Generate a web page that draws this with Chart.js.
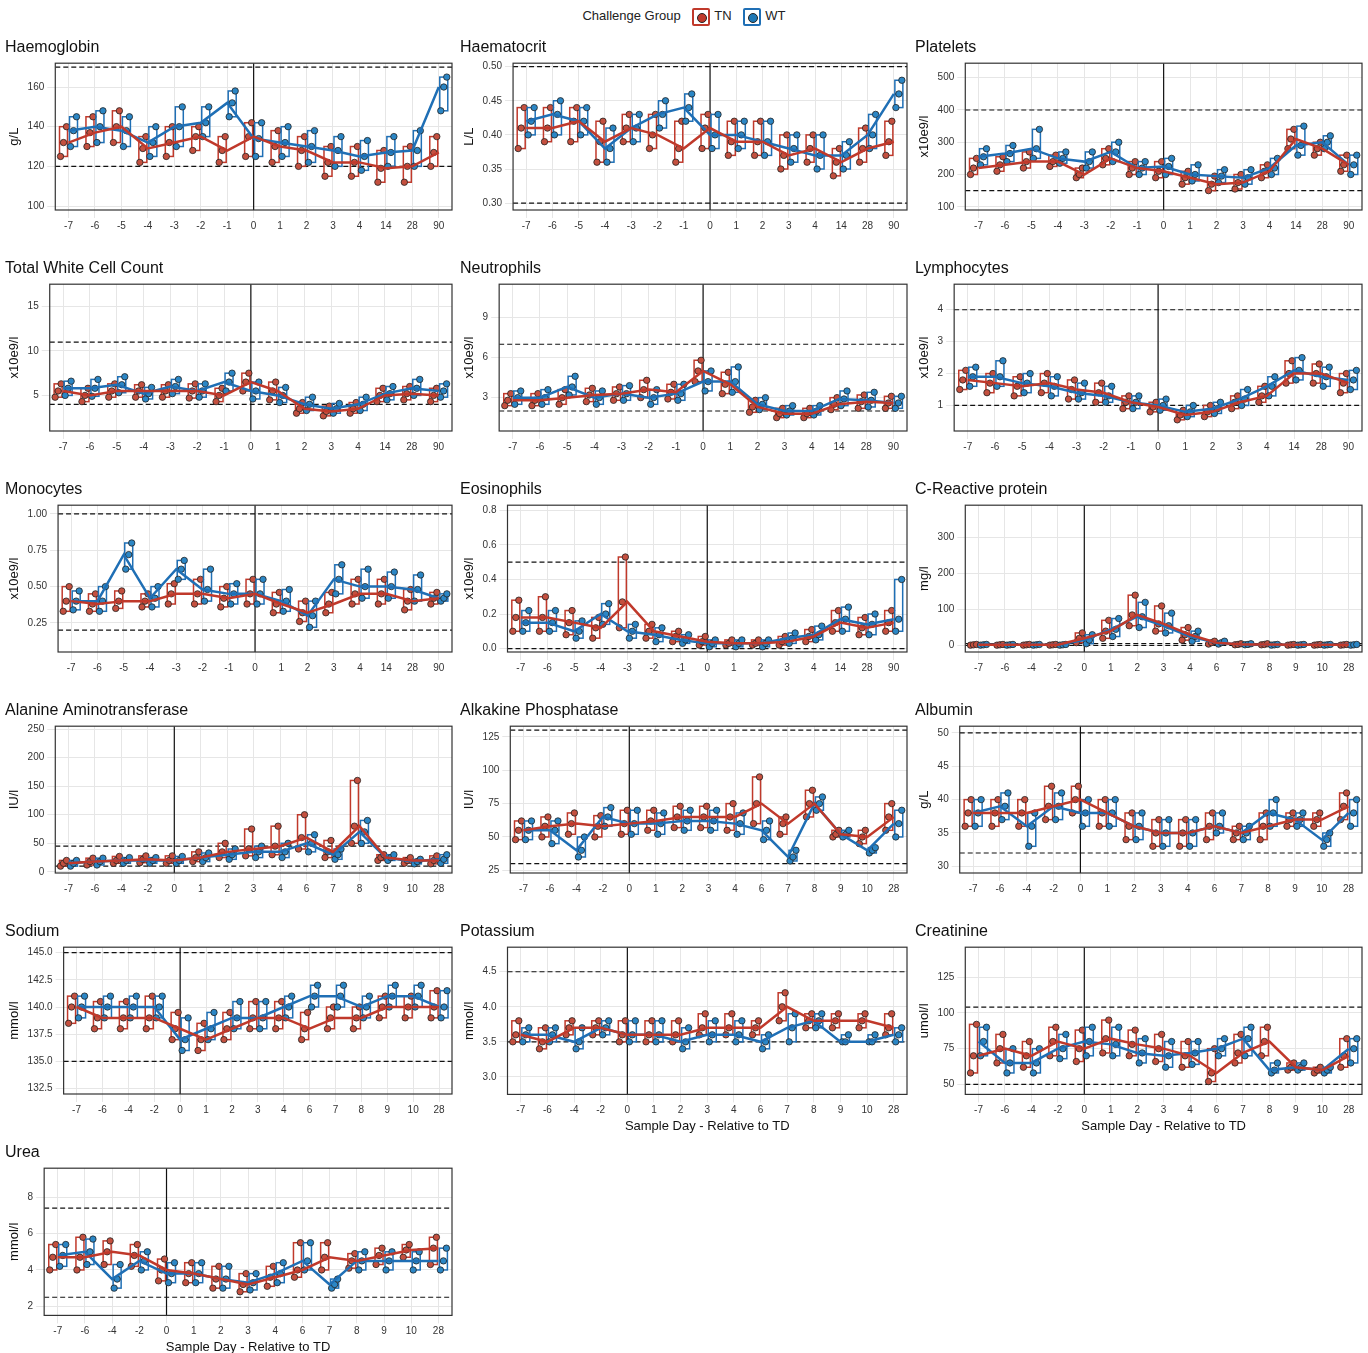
<!DOCTYPE html>
<html>
<head>
<meta charset="utf-8">
<script src="https://cdn.jsdelivr.net/npm/chart.js@4/dist/chart.umd.min.js"></script>
<style>
  body { margin: 0; background: #fff; font-family: "Liberation Sans", Arial, sans-serif; }
  #wrap { position: relative; width: 1368px; height: 1353px; }
  .panel { position: absolute; width: 455px; height: 200px; }
  #legend { position: absolute; top: 8px; left: 0; width: 1368px; text-align: center; font-size: 13px; color: #222; }
  .key { display: inline-block; width: 14px; height: 14px; border: 2px solid; border-radius: 2px; vertical-align: middle; margin: 0 4px 0 8px; position: relative; }
  .key i { position: absolute; left: 3px; top: 3px; width: 8px; height: 8px; border-radius: 50%; border: 1px solid #222; }
</style>
</head>
<body>
<div id="wrap">
  <div id="legend">Challenge Group
    <span class="key" style="border-color:#c0392b"><i style="background:#c0392b"></i></span>TN
    <span class="key" style="border-color:#1f6fb5"><i style="background:#1f78b4"></i></span>WT
  </div>
</div>
<script>
// =============================
// Day categories
// =============================
const DAYS_A = ["-7","-6","-5","-4","-3","-2","-1","0","1","2","3","4","14","28","90"];
const DAYS_B = ["-7","-6","-4","-2","0","1","2","3","4","6","7","8","9","10","28"];

// Haemoglobin
const HB_TN = [132,137,140,129,132,135,128,135,130,128,122,122,119,120,127];
const HB_WT = [138,140,138,132,140,142,152,134,132,130,128,125,127,128,160];
const HB_TN_Q1 = [125,130,132,122,125,128,122,125,122,120,115,115,112,112,120];
const HB_TN_Q3 = [140,145,148,135,140,140,135,142,138,135,130,130,128,130,135];
const HB_WT_Q1 = [130,132,130,125,130,135,145,125,125,122,120,118,120,120,148];
const HB_WT_Q3 = [145,148,145,140,150,150,158,142,140,138,135,133,135,138,165];
const HB_TICKS = [100,120,140,160];

// Haematocrit
const HCT_TN = [.41,.41,.42,.39,.41,.40,.38,.41,.39,.39,.37,.38,.36,.38,.39];
const HCT_WT = [.42,.43,.42,.38,.41,.43,.44,.40,.40,.39,.38,.37,.37,.40,.46];
const HCT_TN_Q1 = [.38,.39,.39,.36,.39,.38,.36,.38,.37,.37,.35,.36,.34,.36,.37];
const HCT_TN_Q3 = [.44,.44,.44,.42,.43,.43,.42,.43,.42,.42,.40,.40,.38,.41,.42];
const HCT_WT_Q1 = [.40,.40,.40,.36,.39,.41,.42,.38,.38,.37,.36,.35,.35,.38,.44];
const HCT_WT_Q3 = [.44,.45,.44,.41,.43,.45,.46,.43,.42,.42,.40,.40,.39,.43,.48];
const HCT_TICKS = [.30,.35,.40,.45,.50];

// Platelets
const PLT_TN = [220,230,240,240,200,250,220,210,190,170,175,210,310,280,230];
const PLT_WT = [255,265,280,250,240,270,220,225,200,195,190,220,290,300,230];
const PLT_TN_Q1 = [200,210,220,225,190,230,200,190,170,150,155,190,280,260,210];
const PLT_TN_Q3 = [250,255,270,260,220,280,240,240,210,195,200,230,340,300,260];
const PLT_WT_Q1 = [230,240,250,235,220,240,200,200,180,175,170,200,260,280,200];
const PLT_WT_Q3 = [280,290,340,270,270,300,240,250,230,215,215,250,350,320,260];
const PLT_TICKS = [100,200,300,400,500];

// Total white cell count
const WCC_TN = [5.5,5,5.5,5.5,5.5,5.5,5,6.5,5.5,3.5,3.2,3.5,5,5.2,5];
const WCC_WT = [5.8,5.8,6.2,5.2,6,5.5,6.5,5.5,5,4,3.5,4,5.2,5.8,5.5];
const WCC_TN_Q1 = [4.8,4.3,4.8,4.8,4.8,4.7,4.3,5.5,4.5,3,2.7,3,4.3,4.5,4.3];
const WCC_TN_Q3 = [6.3,5.8,6.3,6.2,6.2,6.3,5.8,7.5,6.5,4.2,3.8,4.2,5.8,6,5.8];
const WCC_WT_Q1 = [5,4.9,5.3,4.6,5.2,4.8,5.5,4.6,4.2,3.3,3,3.3,4.5,5,4.8];
const WCC_WT_Q3 = [6.6,6.8,7.1,5.9,6.8,6.3,7.5,6.5,5.9,4.8,4.1,4.8,6,6.8,6.3];
const WCC_TICKS = [5,10,15];

// Neutrophils
const NEU_TN = [2.8,2.8,3.0,3.2,3.3,3.6,3.4,5.0,4.0,2.3,1.8,1.8,2.5,2.7,2.6];
const NEU_WT = [3.0,3.0,3.8,3.0,3.3,3.0,3.3,4.2,4.2,2.5,2.0,2.0,2.9,2.8,2.6];
const NEU_TN_Q1 = [2.4,2.4,2.5,2.7,2.8,3.0,2.9,4.2,3.3,1.9,1.5,1.5,2.1,2.2,2.2];
const NEU_TN_Q3 = [3.3,3.3,3.6,3.7,3.8,4.3,4.0,5.8,4.9,2.8,2.2,2.2,3.0,3.2,3.1];
const NEU_WT_Q1 = [2.5,2.5,3.2,2.5,2.8,2.5,2.8,3.5,3.4,2.1,1.7,1.7,2.4,2.3,2.2];
const NEU_WT_Q3 = [3.5,3.6,4.6,3.5,3.9,3.6,4.0,5.0,5.3,3.0,2.4,2.4,3.5,3.4,3.1];
const NEU_TICKS = [3,6,9];

// Lymphocytes
const LYM_TN = [1.8,1.7,1.6,1.7,1.5,1.4,1.1,0.95,0.7,0.8,1.1,1.3,2.0,2.0,1.7];
const LYM_WT = [1.9,1.9,1.7,1.6,1.4,1.3,1.1,1.0,0.8,0.9,1.2,1.6,2.1,1.9,1.8];
const LYM_TN_Q1 = [1.5,1.4,1.3,1.4,1.2,1.1,0.9,0.8,0.55,0.65,0.9,1.1,1.7,1.7,1.4];
const LYM_TN_Q3 = [2.1,2.0,1.9,2.0,1.8,1.7,1.3,1.1,0.85,1.0,1.3,1.6,2.4,2.3,2.0];
const LYM_WT_Q1 = [1.6,1.6,1.4,1.3,1.2,1.1,0.9,0.85,0.65,0.75,1.0,1.3,1.8,1.6,1.5];
const LYM_WT_Q3 = [2.2,2.4,2.0,1.9,1.7,1.6,1.3,1.2,1.0,1.1,1.5,1.9,2.5,2.2,2.1];
const LYM_TICKS = [1,2,3,4];

// Monocytes
const MON_TN = [.40,.38,.40,.40,.45,.45,.42,.45,.38,.32,.38,.45,.45,.40,.42];
const MON_WT = [.40,.40,.72,.42,.62,.48,.45,.45,.40,.30,.55,.50,.50,.48,.42];
const MON_TN_Q1 = [.33,.33,.35,.36,.38,.38,.36,.38,.32,.26,.32,.38,.38,.34,.38];
const MON_TN_Q3 = [.50,.45,.47,.45,.52,.55,.50,.55,.46,.40,.46,.55,.55,.48,.46];
const MON_WT_Q1 = [.34,.33,.62,.36,.55,.40,.38,.38,.33,.22,.45,.42,.42,.40,.40];
const MON_WT_Q3 = [.47,.50,.80,.50,.68,.62,.52,.55,.48,.40,.65,.62,.60,.58,.45];
const MON_TICKS = [.25,.50,.75,1.00];

// Eosinophils
const EOS_TN = [.18,.18,.15,.12,.27,.10,.07,.04,.03,.03,.04,.07,.15,.12,.15];
const EOS_WT = [.15,.15,.10,.20,.10,.08,.05,.03,.03,.03,.06,.08,.17,.14,.17];
const EOS_TN_Q1 = [.10,.10,.08,.06,.12,.06,.04,.02,.02,.02,.02,.04,.10,.08,.10];
const EOS_TN_Q3 = [.28,.30,.22,.18,.53,.14,.10,.07,.05,.05,.07,.11,.22,.18,.22];
const EOS_WT_Q1 = [.10,.10,.06,.14,.06,.04,.03,.01,.01,.01,.03,.05,.10,.08,.10];
const EOS_WT_Q3 = [.22,.22,.16,.26,.14,.12,.08,.05,.05,.05,.09,.13,.24,.20,.40];
const EOS_TICKS = [0,.2,.4,.6,.8];

// C-Reactive protein
const CRP_TN = [2,2,2,2,20,40,85,60,30,8,3,3,2,2,2];
const CRP_WT = [2,2,2,2,15,45,80,55,25,8,3,2,2,2,2];
const CRP_TN_Q1 = [1,1,1,1,8,20,55,40,15,4,2,2,1,1,1];
const CRP_TN_Q3 = [3,3,3,3,35,70,140,110,50,12,5,5,3,3,3];
const CRP_WT_Q1 = [1,1,1,1,5,25,50,35,12,4,2,1,1,1,1];
const CRP_WT_Q3 = [3,3,3,3,30,75,120,90,40,12,5,3,3,3,3];
const CRP_TICKS = [0,100,200,300];

// Alanine aminotransferase
const ALT_TN = [15,18,20,22,20,25,35,40,45,60,35,80,25,20,20];
const ALT_WT = [15,18,20,20,20,25,30,35,35,50,30,70,25,18,22];
const ALT_TN_Q1 = [10,12,15,16,15,18,25,28,30,40,25,50,20,15,14];
const ALT_TN_Q3 = [20,24,27,28,28,35,50,75,80,100,55,160,30,25,28];
const ALT_WT_Q1 = [10,12,15,15,15,18,22,25,25,35,22,50,20,14,15];
const ALT_WT_Q3 = [20,24,25,25,27,33,40,45,50,65,40,90,30,22,30];
const ALT_TICKS = [0,50,100,150,200,250];

// Alkaline phosphatase
const ALP_TN = [55,58,60,58,60,62,65,65,65,75,60,75,52,50,65];
const ALP_WT = [55,55,40,65,60,60,62,62,60,55,35,75,52,40,60];
const ALP_TN_Q1 = [48,50,52,50,52,55,57,57,55,60,52,65,50,45,55];
const ALP_TN_Q3 = [62,65,68,66,70,70,73,73,75,95,65,85,55,55,75];
const ALP_WT_Q1 = [48,45,35,58,52,52,55,55,52,48,32,70,50,38,50];
const ALP_WT_Q3 = [62,62,50,72,70,68,70,70,68,62,40,80,55,42,70];
const ALP_TICKS = [25,50,75,100,125];

// Albumin
const ALB_TN = [38,38,38,39,40,38,36,35,35,36,35,36,37,37,39];
const ALB_WT = [38,39,36,39,38,38,36,35,35,36,35,38,37,34,38];
const ALB_TN_Q1 = [36,36,36,37,38,36,34,33,33,34,34,34,36,36,37];
const ALB_TN_Q3 = [40,40,40,42,42,40,38,37,37,38,36,38,38,38,41];
const ALB_WT_Q1 = [36,37,33,37,36,36,34,33,33,35,34,36,36,33,36];
const ALB_WT_Q3 = [40,41,38,41,40,40,38,37,37,38,36,40,38,35,40];
const ALB_TICKS = [30,35,40,45,50];

// Sodium
const NA_TN = [140,139,139,139,138,137,138,139,139,138,139,139,140,140,140];
const NA_WT = [140,140,140,140,137,138,139,139,140,141,141,140,141,141,140];
const NA_TN_Q1 = [138.5,138,138,138,137,136,137,138,138,137,138,138,139,139,139];
const NA_TN_Q3 = [141,140.5,140.5,141,139.5,138.5,139.5,140.5,140.5,139.5,140,140,141,141,141.5];
const NA_WT_Q1 = [139,139,139,139,136,137,138,138,139,140,140,139,140,140,139];
const NA_WT_Q3 = [141,141,141,141,139,139.5,140.5,140.5,141,142,142,141,142,142,141.5];
const NA_TICKS = [132.5,135,137.5,140,142.5,145];

// Potassium
const K_TN = [3.6,3.5,3.7,3.7,3.6,3.6,3.6,3.7,3.7,3.7,4.0,3.8,3.8,3.8,3.7];
const K_WT = [3.6,3.6,3.5,3.7,3.6,3.6,3.5,3.6,3.6,3.5,3.7,3.8,3.5,3.5,3.6];
const K_TN_Q1 = [3.5,3.4,3.6,3.6,3.5,3.5,3.5,3.6,3.6,3.6,3.8,3.7,3.7,3.7,3.6];
const K_TN_Q3 = [3.8,3.7,3.8,3.8,3.8,3.8,3.8,3.9,3.9,3.8,4.2,3.9,3.9,3.9,3.9];
const K_WT_Q1 = [3.5,3.5,3.4,3.6,3.5,3.5,3.4,3.5,3.5,3.4,3.5,3.7,3.5,3.5,3.5];
const K_WT_Q3 = [3.7,3.7,3.7,3.8,3.8,3.8,3.7,3.8,3.8,3.6,3.9,3.9,3.6,3.6,3.7];
const K_TICKS = [3.0,3.5,4.0,4.5];

// Creatinine
const CR_TN = [70,75,70,80,75,82,78,75,70,58,72,80,62,60,70];
const CR_WT = [80,65,65,75,80,78,72,70,72,75,82,60,62,60,75];
const CR_TN_Q1 = [58,65,62,70,66,72,70,66,62,52,65,70,60,58,62];
const CR_TN_Q3 = [92,85,80,90,88,95,88,85,80,75,85,90,65,62,82];
const CR_WT_Q1 = [70,58,58,68,70,70,65,62,64,70,70,58,60,58,65];
const CR_WT_Q3 = [90,75,75,85,90,90,82,80,80,82,90,65,65,62,82];
const CR_TICKS = [50,75,100,125];

// Urea
const UR_TN = [4.7,4.7,5.0,4.8,4.0,3.8,3.5,3.2,3.6,4.0,4.7,4.5,4.8,5.1,5.2];
const UR_WT = [4.8,5.0,3.5,4.5,3.8,3.8,3.5,3.3,3.8,4.5,3.2,4.5,4.5,4.5,4.5];
const UR_TN_Q1 = [4,4,4.3,4.2,3.4,3.3,3,2.8,3.1,3.6,4,4.1,4.3,4.7,4.3];
const UR_TN_Q3 = [5.4,5.8,5.6,5.4,4.6,4.4,4.2,3.8,4.2,5.5,5.5,4.9,5.2,5.4,5.8];
const UR_WT_Q1 = [4.2,4.3,3,4,3.3,3.3,3,2.9,3.3,4,3,4,4,4,4];
const UR_WT_Q3 = [5.4,5.7,4.3,5,4.4,4.4,4.2,3.8,4.4,5.5,3.5,5,5,5,5.2];
const UR_TICKS = [2,4,6,8];

const TN_COL = "#c0392b";
const WT_COL = "#1f6fb5";
const TN_DOT = "#c4503f";
const WT_DOT = "#2b86c5";

// panel layout: [title, unit, days, tn, wt, tnq1, tnq3, wtq1, wtq3, ticks, min, max, refs, col, row, xtitle, decimals]
const PANELS = [
  ["Haemoglobin","g/L",DAYS_A,HB_TN,HB_WT,HB_TN_Q1,HB_TN_Q3,HB_WT_Q1,HB_WT_Q3,HB_TICKS,98,172,[120,170],0,0,false,0],
  ["Haematocrit","L/L",DAYS_A,HCT_TN,HCT_WT,HCT_TN_Q1,HCT_TN_Q3,HCT_WT_Q1,HCT_WT_Q3,HCT_TICKS,0.29,0.505,[0.30,0.50],1,0,false,2],
  ["Platelets","x10e9/l",DAYS_A,PLT_TN,PLT_WT,PLT_TN_Q1,PLT_TN_Q3,PLT_WT_Q1,PLT_WT_Q3,PLT_TICKS,90,545,[150,400],2,0,false,0],
  ["Total White Cell Count","x10e9/l",DAYS_A,WCC_TN,WCC_WT,WCC_TN_Q1,WCC_TN_Q3,WCC_WT_Q1,WCC_WT_Q3,WCC_TICKS,1,17.5,[4,11],0,1,false,0],
  ["Neutrophils","x10e9/l",DAYS_A,NEU_TN,NEU_WT,NEU_TN_Q1,NEU_TN_Q3,NEU_WT_Q1,NEU_WT_Q3,NEU_TICKS,0.5,11.5,[2,7],1,1,false,0],
  ["Lymphocytes","x10e9/l",DAYS_A,LYM_TN,LYM_WT,LYM_TN_Q1,LYM_TN_Q3,LYM_WT_Q1,LYM_WT_Q3,LYM_TICKS,0.2,4.8,[1,4],2,1,false,0],
  ["Monocytes","x10e9/l",DAYS_A,MON_TN,MON_WT,MON_TN_Q1,MON_TN_Q3,MON_WT_Q1,MON_WT_Q3,MON_TICKS,0.05,1.06,[0.2,1.0],0,2,false,2],
  ["Eosinophils","x10e9/l",DAYS_A,EOS_TN,EOS_WT,EOS_TN_Q1,EOS_TN_Q3,EOS_WT_Q1,EOS_WT_Q3,EOS_TICKS,-0.02,0.83,[0,0.5],1,2,false,1],
  ["C-Reactive protein","mg/l",DAYS_B,CRP_TN,CRP_WT,CRP_TN_Q1,CRP_TN_Q3,CRP_WT_Q1,CRP_WT_Q3,CRP_TICKS,-18,390,[0,5],2,2,false,0],
  ["Alanine Aminotransferase","IU/l",DAYS_B,ALT_TN,ALT_WT,ALT_TN_Q1,ALT_TN_Q3,ALT_WT_Q1,ALT_WT_Q3,ALT_TICKS,-2,255,[10,45],0,3,false,0],
  ["Alkakine Phosphatase","IU/l",DAYS_B,ALP_TN,ALP_WT,ALP_TN_Q1,ALP_TN_Q3,ALP_WT_Q1,ALP_WT_Q3,ALP_TICKS,23,133,[30,130],1,3,false,0],
  ["Albumin","g/L",DAYS_B,ALB_TN,ALB_WT,ALB_TN_Q1,ALB_TN_Q3,ALB_WT_Q1,ALB_WT_Q3,ALB_TICKS,29,51,[32,50],2,3,false,0],
  ["Sodium","mmol/l",DAYS_B,NA_TN,NA_WT,NA_TN_Q1,NA_TN_Q3,NA_WT_Q1,NA_WT_Q3,NA_TICKS,132,145.5,[135,145],0,4,false,1],
  ["Potassium","mmol/l",DAYS_B,K_TN,K_WT,K_TN_Q1,K_TN_Q3,K_WT_Q1,K_WT_Q3,K_TICKS,2.75,4.85,[3.5,4.5],1,4,true,1],
  ["Creatinine","umol/l",DAYS_B,CR_TN,CR_WT,CR_TN_Q1,CR_TN_Q3,CR_WT_Q1,CR_WT_Q3,CR_TICKS,43,146,[50,104],2,4,true,0],
  ["Urea","mmol/l",DAYS_B,UR_TN,UR_WT,UR_TN_Q1,UR_TN_Q3,UR_WT_Q1,UR_WT_Q3,UR_TICKS,1.5,9.6,[2.5,7.4],0,5,true,0],
];

// boxes, dots, reference lines and the day-0 line
const panelDecor = {
  id: "panelDecor",
  beforeDatasetsDraw(chart, args, o) {
    const { ctx, chartArea: a, scales: { x, y } } = chart;
    ctx.save();
    ctx.beginPath(); ctx.rect(a.left, a.top, a.width, a.height); ctx.clip();
    ctx.strokeStyle = "#111"; ctx.lineWidth = 1.2;
    ctx.setLineDash([5, 3]);
    o.refs.forEach(v => {
      const py = y.getPixelForValue(v);
      ctx.beginPath(); ctx.moveTo(a.left, py); ctx.lineTo(a.right, py); ctx.stroke();
    });
    ctx.setLineDash([]);
    const zx = x.getPixelForValue(o.days.indexOf("0"));
    ctx.beginPath(); ctx.moveTo(zx, a.top); ctx.lineTo(zx, a.bottom); ctx.stroke();
    const groups = [[o.tnq1, o.tn, o.tnq3, TN_COL, TN_DOT, -5], [o.wtq1, o.wt, o.wtq3, WT_COL, WT_DOT, 5]];
    groups.forEach(([q1, md, q3, col, dot, off]) => {
      md.forEach((m, i) => {
        const cx = x.getPixelForValue(i) + off;
        const t = y.getPixelForValue(q3[i]), b = y.getPixelForValue(q1[i]), mp = y.getPixelForValue(m);
        ctx.strokeStyle = col; ctx.lineWidth = 1.5;
        ctx.strokeRect(cx - 4, t, 8, b - t);
        ctx.beginPath(); ctx.moveTo(cx - 4, mp); ctx.lineTo(cx + 4, mp); ctx.stroke();
        [q1[i], m, q3[i]].forEach((v, k) => {
          ctx.beginPath();
          ctx.arc(cx + (k - 1) * 3, y.getPixelForValue(v), 3.2, 0, Math.PI * 2);
          ctx.fillStyle = dot; ctx.fill();
          ctx.strokeStyle = "#222"; ctx.lineWidth = 0.8; ctx.stroke();
        });
      });
    });
    ctx.restore();
  },
  afterDraw(chart) {
    const { ctx, chartArea: a } = chart;
    ctx.save(); ctx.strokeStyle = "#333"; ctx.lineWidth = 1.2;
    ctx.strokeRect(a.left, a.top, a.width, a.height); ctx.restore();
  }
};

const wrap = document.getElementById("wrap");
PANELS.forEach(p => {
  const [title, unit, days, tn, wt, tnq1, tnq3, wtq1, wtq3, ticks, ymin, ymax, refs, col, row, xtitle, dec] = p;
  const div = document.createElement("div");
  div.className = "panel";
  div.style.left = (col * 455 + 5) + "px";
  div.style.top = (36 + row * 221) + "px";
  div.style.height = (xtitle ? 214 : 198) + "px";
  const cv = document.createElement("canvas");
  div.appendChild(cv);
  wrap.appendChild(div);
  new Chart(cv, {
    type: "line",
    data: {
      labels: days,
      datasets: [
        { label: "TN", data: tn, borderColor: TN_COL, borderWidth: 2.5, pointRadius: 0, tension: 0 },
        { label: "WT", data: wt, borderColor: WT_COL, borderWidth: 2.5, pointRadius: 0, tension: 0 },
      ],
    },
    options: {
      responsive: true,
      maintainAspectRatio: false,
      animation: false,
      layout: { padding: { right: 8 } },
      plugins: {
        legend: { display: false },
        tooltip: { enabled: false },
        title: { display: true, text: title, align: "start", color: "#111", font: { size: 16, weight: "normal" }, padding: { top: 2, bottom: 6 } },
        panelDecor: { refs, days, tn, wt, tnq1, tnq3, wtq1, wtq3 },
      },
      scales: {
        x: {
          offset: true,
          grid: { color: "#e6e6e6", offset: false },
          border: { display: false },
          ticks: { color: "#333", font: { size: 10 }, maxRotation: 0, autoSkip: false, padding: 2 },
          title: { display: xtitle, text: "Sample Day - Relative to TD", color: "#111", font: { size: 13 }, padding: 0 },
        },
        y: {
          min: ymin, max: ymax,
          afterBuildTicks: ax => { ax.ticks = ticks.map(v => ({ value: v })); },
          grid: { color: "#e6e6e6" },
          border: { display: false },
          ticks: { color: "#333", font: { size: 10 }, callback: v => Number(v).toFixed(dec) },
          title: { display: true, text: unit, color: "#111", font: { size: 13 }, padding: 2 },
        },
      },
    },
    plugins: [panelDecor],
  });
});
</script>
</body>
</html>
